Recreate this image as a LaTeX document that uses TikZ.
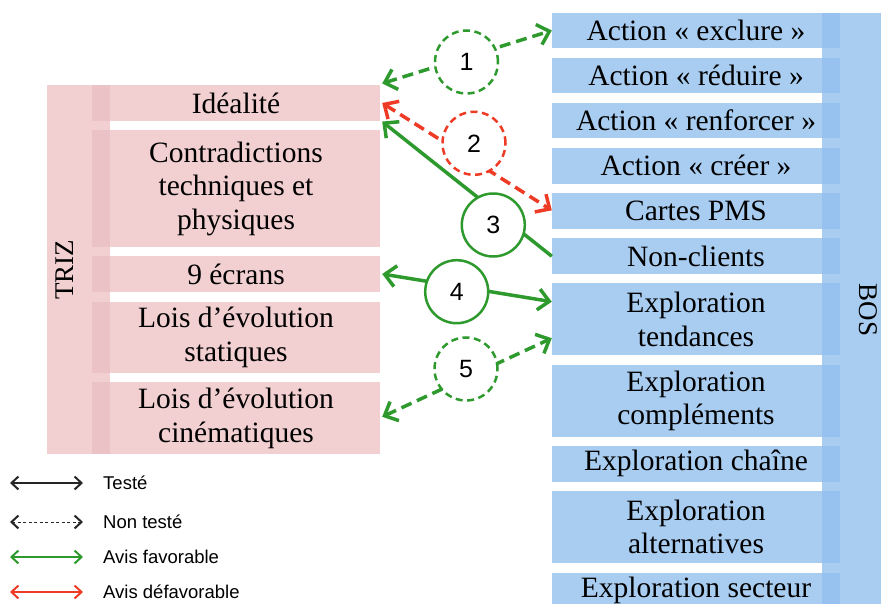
\documentclass[tikz,border=0pt]{standalone}
\usepackage{fontspec}
\setmainfont{Liberation Serif}
\newfontfamily\arialf{Liberation Sans}
\usetikzlibrary{arrows.meta}
\definecolor{pinkbox}{HTML}{F2D0D2}
\definecolor{pinkdark}{HTML}{EBC2C6}
\definecolor{bluebox}{HTML}{A9CDF1}
\definecolor{bluedark}{HTML}{97C1EE}
\definecolor{okgreen}{HTML}{2E9A2E}
\definecolor{badred}{HTML}{EE3B25}
\begin{document}
\begin{tikzpicture}[x=1pt,y=-1pt,
  boxfont/.style={font=\fontsize{29.5pt}{33.5pt}\selectfont},
  tbox/.style={boxfont, fill=pinkbox, minimum width=288pt, inner sep=0pt, align=center,
    path picture={\fill[pinkdark] (path picture bounding box.north west) rectangle ([xshift=18pt]path picture bounding box.south west);}},
  bbox/.style={boxfont, fill=bluebox, minimum width=288pt, inner sep=0pt, align=center,
    path picture={\fill[bluedark] ([xshift=-18pt]path picture bounding box.north east) rectangle (path picture bounding box.south east);}},
  one/.style={minimum height=35.7pt},
  two/.style={minimum height=71.7pt},
  three/.style={minimum height=116.5pt},
  link/.style={line width=3.5pt, okgreen, {Straight Barb[length=11pt,width=21pt]}-{Straight Barb[length=11pt,width=21pt]}},
  linkleft/.style={line width=3.5pt, okgreen, {Straight Barb[length=11pt,width=21pt]}-},
  dlink/.style={link, dash pattern=on 11pt off 6pt},
  num/.style={circle, minimum size=63pt, inner sep=0pt, fill=white, line width=2.5pt, text=black,
    font=\arialf\fontsize{25pt}{25pt}\selectfont},
  dnum/.style={num, dash pattern=on 7pt off 4.5pt},
  legarrow/.style={line width=2pt, {Straight Barb[length=7pt,width=13pt,line width=2pt]}-{Straight Barb[length=7pt,width=13pt,line width=2pt]}},
  legtext/.style={anchor=west, inner sep=0pt, font=\arialf\fontsize{18.5pt}{21pt}\selectfont},
  grouplabel/.style={font=\fontsize{27pt}{30pt}\selectfont, inner sep=0pt}
]
\useasboundingbox (0,0) rectangle (881,604);

% TRIZ group
\fill[pinkbox] (47,85) rectangle (110,454);
\node[grouplabel, rotate=90] (triz) at (65,270) {TRIZ};
\node[tbox, one]   (ideal)  at (236,103)   {Idéalité};
\node[tbox, three] (contra) at (236,188.5) {Contradictions\\techniques et\\physiques};
\node[tbox, one]   (ecrans) at (236,274)   {9 écrans};
\node[tbox, two]   (stat)   at (236,337.5) {Lois d’évolution\\statiques};
\node[tbox, two]   (cine)   at (236,418.3) {Lois d’évolution\\cinématiques};

% BOS group
\fill[bluebox] (822,12.7) rectangle (895,620);
\node[grouplabel, rotate=-90] (bos) at (868,310) {BOS};
\node[bbox, one] (excl)   at (696,30.5)  {Action « exclure »};
\node[bbox, one] (redu)   at (696,75.5)  {Action « réduire »};
\node[bbox, one] (renf)   at (696,120.5) {Action « renforcer »};
\node[bbox, one] (creer)  at (696,165.8) {Action « créer »};
\node[bbox, one] (pms)    at (696,211.3) {Cartes PMS};
\node[bbox, one] (nonc)   at (696,256.2) {Non-clients};
\node[bbox, two] (tend)   at (696,319.2) {Exploration\\tendances};
\node[bbox, two] (compl)  at (696,400.8) {Exploration\\compléments};
\node[bbox, one] (chaine) at (696,463.8) {Exploration chaîne};
\node[bbox, two] (alt)    at (696,526.8) {Exploration\\alternatives};
\node[bbox, one] (sect)   at (696,590.5) {Exploration secteur};

% connectors
\draw[dlink] ([shift={(2pt,1.5pt)}]ideal.north east) -- (excl.west);
\draw[dlink, badred] ([xshift=2pt]ideal.east) -- ([yshift=1pt]pms.west);
\draw[linkleft] ([shift={(2pt,-0.5pt)}]ideal.south east) -- (nonc.west);
\draw[link] ([xshift=2pt]ecrans.east) -- ([yshift=17.5pt]tend.west);
\draw[dlink] ([shift={(2pt,1.5pt)}]cine.east) -- ([yshift=-19pt]tend.west);

% numbered circles
\node[dnum, draw=okgreen] (c1) at (466.5,62)  {1};
\node[dnum, draw=badred]  (c2) at (474,143.3) {2};
\node[num,  draw=okgreen] (c3) at (493.3,225) {3};
\node[num,  draw=okgreen] (c4) at (456.7,291.7) {4};
\node[dnum, draw=okgreen] (c5) at (466,369)   {5};

% legend
\coordinate (la1) at (10,483);  \coordinate (lb1) at (83,483);
\coordinate (la2) at (10,522);  \coordinate (lb2) at (83,522);
\coordinate (la3) at (10,557);  \coordinate (lb3) at (83,557);
\coordinate (la4) at (10,592);  \coordinate (lb4) at (83,592);
\draw[legarrow, black!85] (la1) -- (lb1);
\draw[legarrow, black!85, line width=0.9pt, dash pattern=on 3pt off 2.5pt] (la2) -- (lb2);
\draw[legarrow, okgreen] (la3) -- (lb3);
\draw[legarrow, badred] (la4) -- (lb4);
\node[legtext] (lt1) at (103,483) {Testé};
\node[legtext] (lt2) at (103,522) {Non testé};
\node[legtext] (lt3) at (103,557) {Avis favorable};
\node[legtext] (lt4) at (103,592) {Avis défavorable};
\end{tikzpicture}
\end{document}
